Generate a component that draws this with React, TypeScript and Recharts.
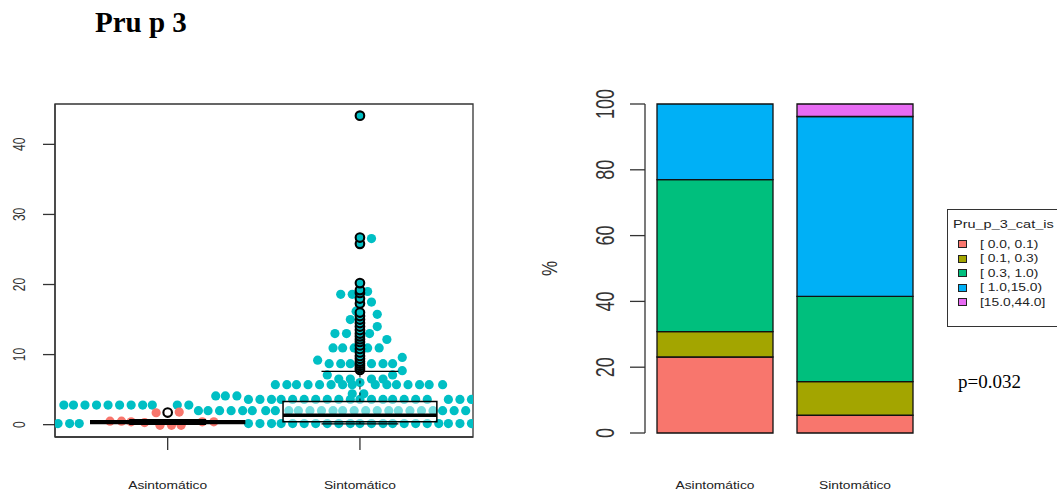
import React from 'react';
import {
  ScatterChart,
  Scatter,
  XAxis,
  YAxis,
  ReferenceArea,
  ReferenceLine,
  BarChart,
  Bar,
} from 'recharts';

const groups = ['Asintomático', 'Sintomático'];
const groupPos = [1, 2];

// beeswarm, Asintomático (red) points: x = position in swarm, y = value
const redX = [0.7, 0.76, 0.81, 0.88, 0.94, 1.06, 0.96, 1.02, 1.07, 1.18, 1.24];
const redY = [0.5, 0.5, 0.4, 0.3, 1.7, 1.8, -0.1, -0.1, -0.1, 0.4, 0.4];

// beeswarm, Sintomático (cyan) points, one row per value
const cyanRowY = [
  0.15, 2.0, 2.8, 3.6, 4.1, 4.4, 5.7, 6.0, 6.5, 7.1, 7.7, 8.7, 9.2, 9.6, 10.95, 12.15, 13.0, 14.0,
  15.0, 15.75, 16.2, 17.5, 18.6, 19.0, 26.55,
];
const cyanRowX = [
  [0.43, 0.49, 0.54, 1.42, 1.48, 1.54, 1.59, 1.65, 1.71, 1.77, 1.83, 1.89, 1.95, 2.0, 2.06, 2.12, 2.17, 2.23, 2.29, 2.35, 2.41, 2.46, 2.52, 2.58],
  [1.16, 1.21, 1.27, 1.33, 1.39, 1.44, 1.51, 1.56, 1.63, 1.68, 1.74, 1.8, 1.86, 1.91, 1.97, 2.03, 2.09, 2.15, 2.2, 2.26, 2.32, 2.38, 2.43, 2.49, 2.55],
  [0.46, 0.51, 0.57, 0.63, 0.69, 0.75, 0.81, 0.87, 0.92, 1.05, 1.11],
  [1.42, 1.48, 1.54, 1.59, 1.65, 1.71, 1.77, 1.83, 1.89, 1.95, 2.0, 2.06, 2.12, 2.17, 2.23, 2.29, 2.35, 2.46, 2.52, 2.58],
  [1.25, 1.3, 1.36],
  [1.96, 2.02],
  [1.56, 1.62, 1.67, 1.73, 1.79, 1.85, 1.91, 1.96, 2.08, 2.14, 2.19, 2.25, 2.31, 2.36, 2.43],
  [2.0],
  [1.89, 1.95, 2.06, 2.12],
  [1.83, 2.17],
  [2.22],
  [1.84, 1.9, 1.95, 2.06, 2.12, 2.17],
  [1.78],
  [2.22],
  [1.86, 1.91, 1.97, 2.04, 2.1],
  [2.14],
  [1.87, 1.93, 2.05],
  [2.09],
  [1.95],
  [2.09],
  [1.98],
  [2.06],
  [1.9, 1.96],
  [2.04],
  [2.06],
];

// boxplot statistics per group
const whiskLo = [0.05, 0.1];
const boxQ1 = [0.15, 0.4];
const boxMed = [0.35, 1.35];
const boxQ3 = [0.55, 3.3];
const whiskHi = [0.7, 7.6];
const outAsin = [1.73];
const outSint = [
  7.8, 8.1, 8.4, 8.7, 9.0, 9.4, 9.8, 10.3, 10.8, 11.3, 11.8, 12.2, 12.6, 13.0, 13.5, 14.0, 14.5, 15.0,
  15.5, 16.0, 17.3, 18.0, 18.8, 19.2, 20.2, 25.8, 26.7, 44.1,
];

// stacked percentages
const bins = ['[ 0.0, 0.1)', '[ 0.1, 0.3)', '[ 0.3, 1.0)', '[ 1.0,15.0)', '[15.0,44.0]'];
const binColors = ['#F8766D', '#A3A500', '#00BF7D', '#00B0F6', '#E76BF3'];
const pctAsin = [23.1, 7.7, 46.2, 23.0, 0];
const pctSint = [5.4, 10.2, 25.9, 54.7, 3.8];

const redPts = redX.map((x, i) => ({ x, y: redY[i] }));
const cyanPts = cyanRowY.flatMap((y, i) => cyanRowX[i].map((x) => ({ x, y })));
const outPts = [
  ...outAsin.map((y) => ({ x: groupPos[0], y, ring: true })),
  ...outSint.map((y) => ({ x: groupPos[1], y, ring: false })),
];
const barData = groups.map((name, gi) => {
  const row: any = { name };
  bins.forEach((_, i) => {
    row['c' + i] = (gi === 0 ? pctAsin : pctSint)[i];
  });
  return row;
});

const RFONT = '"Liberation Sans", Arial, Helvetica, sans-serif';
const SX = 1.38;

const Dot = (color: string) => (p: any) => <circle cx={p.cx} cy={p.cy} r={4.6} fill={color} />;
const Ring = (p: any) => (
  <circle cx={p.cx} cy={p.cy} r={4.3} fill={p.payload.ring ? 'none' : '#00BFC4'} stroke="#000" strokeWidth={2.1} />
);

const YTick = ({ x, y, payload, dx, size }: any) => (
  <text
    transform={`translate(${x + dx},${y}) scale(${SX},1) rotate(-90)`}
    textAnchor="middle"
    dominantBaseline="central"
    fontSize={size}
    fontFamily={RFONT}
    fill="#333"
  >
    {payload.value}
  </text>
);

const XTick = ({ x, y, payload, dy, fmt }: any) => (
  <text
    transform={`translate(${x},${y + dy}) scale(${SX},1)`}
    textAnchor="middle"
    fontSize={10}
    fontFamily={RFONT}
    fill="#222"
  >
    {fmt ? fmt(payload.value) : payload.value}
  </text>
);

const PctLabel = (props: any) => {
  const vb = props.viewBox || { x: 0, y: 104, height: 329 };
  return (
    <text
      transform={`translate(${vb.x + 50},${vb.y + vb.height / 2}) scale(1.25,1) rotate(-90)`}
      textAnchor="middle"
      dominantBaseline="central"
      fontSize={17}
      fontFamily={RFONT}
      fill="#333"
    >
      %
    </text>
  );
};

const xDomain = [0.414, 2.588];
const yDomain = [-1.76, 45.76];

const SwarmPanel = () => (
  <ScatterChart width={490} height={496} margin={{ top: 104, right: 17, bottom: 0, left: 15 }}>
    <XAxis
      dataKey="x"
      type="number"
      domain={xDomain}
      allowDataOverflow
      ticks={groupPos}
      height={59}
      tickSize={13}
      tickMargin={0}
      axisLine={{ stroke: '#333', strokeWidth: 1.3 }}
      tickLine={{ stroke: '#333', strokeWidth: 1.3 }}
      tick={(p: any) => <XTick {...p} dy={39} fmt={(v: number) => groups[groupPos.indexOf(v)]} />}
    />
    <YAxis
      dataKey="y"
      type="number"
      domain={yDomain}
      allowDataOverflow
      ticks={[0, 10, 20, 30, 40]}
      width={40}
      tickSize={12}
      tickMargin={0}
      axisLine={{ stroke: '#333', strokeWidth: 1.3 }}
      tickLine={{ stroke: '#333', strokeWidth: 1.3 }}
      tick={(p: any) => <YTick {...p} dx={-24} size={12} />}
    />
    <ReferenceArea
      x1={xDomain[0]}
      x2={xDomain[1]}
      y1={yDomain[0]}
      y2={yDomain[1]}
      fill="none"
      stroke="#333"
      strokeWidth={1.3}
      ifOverflow="visible"
    />
    <Scatter data={cyanPts} shape={Dot('#00BFC4')} isAnimationActive={false} />
    <Scatter data={redPts} shape={Dot('#F8766D')} isAnimationActive={false} />
    {groupPos.map((g, i) => (
      <ReferenceLine
        key={'wl' + i}
        segment={[{ x: g, y: whiskLo[i] }, { x: g, y: boxQ1[i] }]}
        stroke="#000"
        strokeDasharray="3 3"
        zIndex={700}
      />
    ))}
    {groupPos.map((g, i) => (
      <ReferenceLine
        key={'wh' + i}
        segment={[{ x: g, y: boxQ3[i] }, { x: g, y: whiskHi[i] }]}
        stroke="#000"
        strokeDasharray="3 3"
        zIndex={700}
      />
    ))}
    {groupPos.map((g, i) => (
      <ReferenceLine key={'cl' + i} segment={[{ x: g - 0.2, y: whiskLo[i] }, { x: g + 0.2, y: whiskLo[i] }]} stroke="#000" strokeWidth={1.3} zIndex={700} />
    ))}
    {groupPos.map((g, i) => (
      <ReferenceLine key={'ch' + i} segment={[{ x: g - 0.2, y: whiskHi[i] }, { x: g + 0.2, y: whiskHi[i] }]} stroke="#000" strokeWidth={1.3} zIndex={700} />
    ))}
    {groupPos.map((g, i) => (
      <ReferenceArea
        key={'bx' + i}
        x1={g - 0.4}
        x2={g + 0.4}
        y1={boxQ1[i]}
        y2={boxQ3[i]}
        fill="#fff"
        fillOpacity={0.45}
        stroke="#000"
        strokeWidth={1.5}
        zIndex={710}
      />
    ))}
    {groupPos.map((g, i) => (
      <ReferenceLine key={'md' + i} segment={[{ x: g - 0.4, y: boxMed[i] }, { x: g + 0.4, y: boxMed[i] }]} stroke="#000" strokeWidth={3.5} zIndex={720} />
    ))}
    <Scatter data={outPts} shape={Ring} isAnimationActive={false} zIndex={800} />
  </ScatterChart>
);

const BarPanel = () => (
  <BarChart
    width={557}
    height={496}
    data={barData}
    margin={{ top: 104, right: 132, bottom: 0, left: 0 }}
    barCategoryGap={12}
  >
    <XAxis
      dataKey="name"
      height={63}
      axisLine={false}
      tickLine={false}
      tickSize={0}
      tickMargin={0}
      tick={(p: any) => <XTick {...p} dy={56} />}
    />
    <YAxis
      type="number"
      domain={[0, 100]}
      ticks={[0, 20, 40, 60, 80, 100]}
      width={145}
      tickSize={15}
      tickMargin={0}
      axisLine={{ stroke: '#333', strokeWidth: 1.3 }}
      tickLine={{ stroke: '#333', strokeWidth: 1.3 }}
      tick={(p: any) => <YTick {...p} dx={-25} size={18} />}
      label={<PctLabel />}
    />
    {bins.map((b, i) => (
      <Bar
        key={b}
        dataKey={'c' + i}
        stackId="a"
        fill={binColors[i]}
        stroke="#111"
        strokeWidth={1.3}
        isAnimationActive={false}
      />
    ))}
  </BarChart>
);

export default function App() {
  return (
    <div
      style={{
        position: 'absolute',
        left: 0,
        top: 0,
        width: 1057,
        height: 496,
        background: '#fff',
        overflow: 'hidden',
      }}
    >
      <div
        style={{
          position: 'absolute',
          left: 95,
          top: 8,
          font: 'bold 29px/29px "Liberation Serif", "Times New Roman", serif',
          color: '#000',
        }}
      >
        Pru p 3
      </div>
      <div style={{ position: 'absolute', left: 0, top: 0 }}>
        <SwarmPanel />
      </div>
      <div style={{ position: 'absolute', left: 500, top: 0 }}>
        <BarPanel />
      </div>
      <div
        style={{
          position: 'absolute',
          left: 947,
          top: 209,
          width: 112,
          height: 118,
          border: '1px solid #333',
          boxSizing: 'border-box',
          fontFamily: RFONT,
          fontSize: 10,
          color: '#222',
        }}
      >
        <div style={{ position: 'absolute', left: 5, top: 7, lineHeight: '14px', fontSize: 10.5, transform: `scaleX(${SX})`, transformOrigin: 'left', whiteSpace: 'nowrap' }}>
          Pru_p_3_cat_is
        </div>
        {bins.map((b, i) => (
          <div key={b} style={{ position: 'absolute', left: 10, top: 27 + i * 14.5, height: 14, display: 'flex', alignItems: 'center' }}>
            <span style={{ width: 9, height: 8, border: '1px solid #222', background: binColors[i], boxSizing: 'border-box' }} />
            <span style={{ marginLeft: 13, transform: `scaleX(${SX})`, transformOrigin: 'left', whiteSpace: 'pre' }}>{b}</span>
          </div>
        ))}
      </div>
      <div
        style={{
          position: 'absolute',
          left: 958,
          top: 372,
          font: '19px/19px "Liberation Serif", "Times New Roman", serif',
          color: '#000',
        }}
      >
        p=0.032
      </div>
    </div>
  );
}
